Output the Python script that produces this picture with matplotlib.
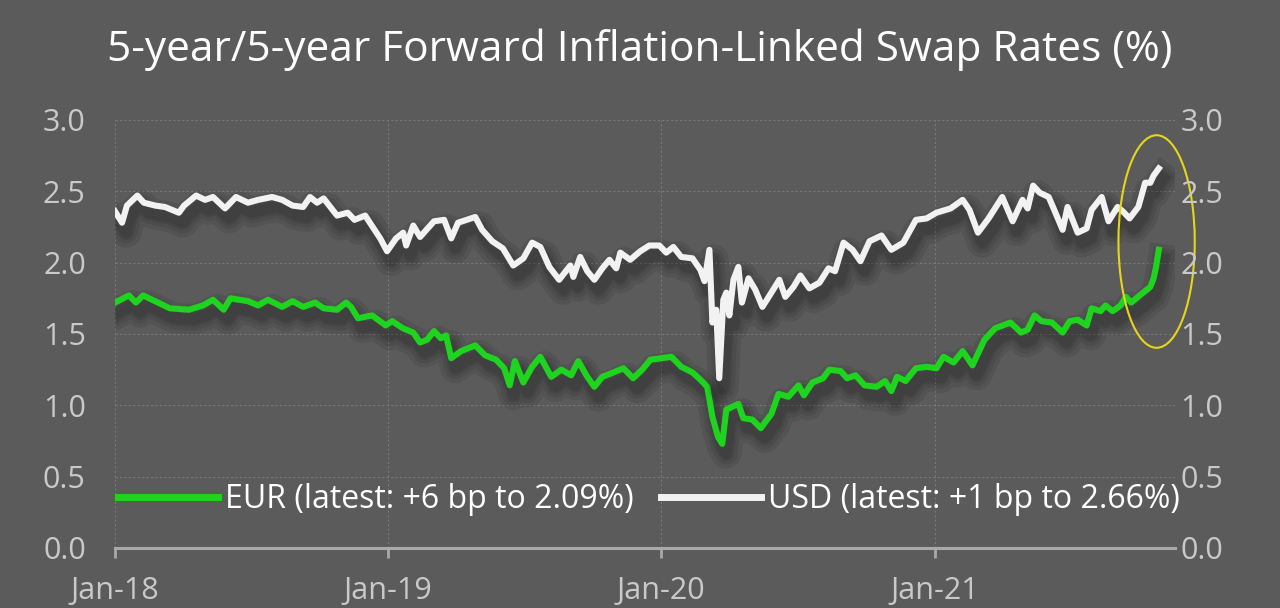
import numpy as np
import pandas as pd
import matplotlib
matplotlib.use("Agg")
import matplotlib.pyplot as plt
import matplotlib.dates as mdates
import matplotlib.patheffects as pe
from matplotlib.patches import Ellipse

# sample times in years after 1 Jan 2018, and values (%)
usd_t = [0.000, 0.026, 0.044, 0.082, 0.106, 0.147, 0.183, 0.234, 0.253, 0.297,
         0.330, 0.359, 0.403, 0.443, 0.487, 0.524, 0.575, 0.612, 0.650, 0.689,
         0.714, 0.740, 0.764, 0.813, 0.852, 0.877, 0.916, 0.940, 0.971, 0.996,
         1.029, 1.055, 1.066, 1.092, 1.117, 1.168, 1.205, 1.231, 1.256, 1.319,
         1.344, 1.381, 1.420, 1.458, 1.495, 1.527, 1.557, 1.590, 1.626, 1.667,
         1.678, 1.703, 1.729, 1.755, 1.784, 1.810, 1.835, 1.850, 1.886, 1.923,
         1.956, 1.993, 2.018, 2.044, 2.073, 2.114, 2.143, 2.158, 2.176, 2.187,
         2.201, 2.212, 2.227, 2.238, 2.249, 2.264, 2.282, 2.295, 2.319, 2.344,
         2.370, 2.403, 2.432, 2.454, 2.484, 2.509, 2.542, 2.579, 2.612, 2.636,
         2.667, 2.700, 2.729, 2.762, 2.806, 2.842, 2.886, 2.932, 2.971, 3.007,
         3.059, 3.103, 3.128, 3.159, 3.198, 3.248, 3.286, 3.322, 3.341, 3.361,
         3.385, 3.418, 3.436, 3.469, 3.487, 3.524, 3.557, 3.575, 3.612, 3.637,
         3.670, 3.689, 3.714, 3.746, 3.771, 3.790, 3.802, 3.821]
usd_v = [2.36, 2.28, 2.40, 2.47, 2.42, 2.40, 2.39, 2.35, 2.40, 2.47,
         2.44, 2.46, 2.38, 2.46, 2.42, 2.44, 2.46, 2.44, 2.40, 2.39,
         2.46, 2.42, 2.45, 2.33, 2.35, 2.30, 2.33, 2.26, 2.17, 2.08,
         2.17, 2.21, 2.12, 2.26, 2.18, 2.29, 2.30, 2.17, 2.28, 2.32,
         2.23, 2.15, 2.10, 1.98, 2.03, 2.14, 2.11, 1.97, 1.88, 1.98,
         1.90, 2.04, 1.94, 1.88, 1.96, 2.02, 1.96, 2.07, 2.02, 2.08,
         2.12, 2.12, 2.07, 2.11, 2.04, 2.03, 1.95, 1.87, 2.09, 1.58,
         1.67, 1.19, 1.74, 1.79, 1.63, 1.88, 1.97, 1.72, 1.89, 1.81,
         1.69, 1.79, 1.88, 1.76, 1.83, 1.91, 1.82, 1.86, 1.96, 1.94,
         2.14, 2.09, 2.01, 2.15, 2.19, 2.09, 2.14, 2.30, 2.31, 2.35,
         2.38, 2.44, 2.37, 2.21, 2.31, 2.46, 2.29, 2.44, 2.38, 2.54,
         2.49, 2.46, 2.38, 2.23, 2.39, 2.21, 2.24, 2.37, 2.46, 2.29,
         2.39, 2.36, 2.31, 2.39, 2.56, 2.56, 2.61, 2.66]

eur_t = [0.000, 0.051, 0.077, 0.103, 0.147, 0.201, 0.271, 0.322, 0.359, 0.398,
         0.423, 0.487, 0.524, 0.560, 0.612, 0.650, 0.689, 0.733, 0.764, 0.813,
         0.846, 0.864, 0.890, 0.941, 0.991, 1.015, 1.054, 1.092, 1.117, 1.143,
         1.168, 1.193, 1.212, 1.231, 1.267, 1.319, 1.355, 1.395, 1.425, 1.445,
         1.464, 1.495, 1.527, 1.557, 1.597, 1.634, 1.670, 1.696, 1.729, 1.755,
         1.784, 1.824, 1.861, 1.897, 1.930, 1.960, 2.000, 2.037, 2.073, 2.114,
         2.143, 2.168, 2.187, 2.207, 2.223, 2.238, 2.282, 2.300, 2.333, 2.364,
         2.403, 2.429, 2.465, 2.502, 2.522, 2.553, 2.592, 2.615, 2.656, 2.680,
         2.711, 2.744, 2.788, 2.819, 2.842, 2.863, 2.894, 2.932, 2.971, 3.007,
         3.033, 3.070, 3.103, 3.139, 3.183, 3.222, 3.278, 3.317, 3.341, 3.366,
         3.392, 3.430, 3.469, 3.495, 3.524, 3.557, 3.575, 3.608, 3.626, 3.652,
         3.681, 3.701, 3.720, 3.751, 3.790, 3.802, 3.811, 3.821]
eur_v = [1.72, 1.77, 1.72, 1.77, 1.73, 1.68, 1.67, 1.70, 1.74, 1.67,
         1.75, 1.73, 1.70, 1.74, 1.69, 1.73, 1.69, 1.72, 1.68, 1.67,
         1.72, 1.69, 1.61, 1.63, 1.56, 1.59, 1.54, 1.51, 1.44, 1.46,
         1.52, 1.47, 1.49, 1.33, 1.38, 1.42, 1.35, 1.32, 1.26, 1.14,
         1.31, 1.16, 1.27, 1.34, 1.20, 1.25, 1.21, 1.31, 1.20, 1.13,
         1.20, 1.23, 1.26, 1.19, 1.25, 1.32, 1.33, 1.34, 1.27, 1.23,
         1.18, 1.13, 0.92, 0.78, 0.73, 0.97, 1.01, 0.91, 0.90, 0.84,
         0.94, 1.08, 1.06, 1.14, 1.07, 1.16, 1.19, 1.25, 1.24, 1.19,
         1.21, 1.14, 1.13, 1.17, 1.10, 1.20, 1.17, 1.26, 1.27, 1.26,
         1.34, 1.30, 1.38, 1.28, 1.46, 1.54, 1.58, 1.51, 1.53, 1.63,
         1.59, 1.58, 1.51, 1.59, 1.60, 1.56, 1.68, 1.66, 1.70, 1.66,
         1.70, 1.76, 1.72, 1.77, 1.83, 1.89, 1.97, 2.09]

labels = ["EUR (latest: +6 bp to 2.09%)", "USD (latest: +1 bp to 2.66%)"]
title = "5-year/5-year Forward Inflation-Linked Swap Rates (%)"
y_ticks = [0.0, 0.5, 1.0, 1.5, 2.0, 2.5, 3.0]
x_ticks = ["2018-01-01", "2019-01-01", "2020-01-01", "2021-01-01"]

START = pd.Timestamp("2018-01-01")


def to_dates(ts):
    return START + pd.to_timedelta(np.asarray(ts) * 365.25, unit="D")


bg = "#5b5b5b"
green = "#1fd41f"
white = "#f2f2f2"
tick_col = "#c9c9c9"

plt.rcParams["font.family"] = ["Open Sans", "DejaVu Sans"]

fig = plt.figure(figsize=(12.8, 6.08), dpi=100, facecolor=bg)
ax = fig.add_axes([0.0898, 0.0987, 0.828, 0.704], facecolor=bg)

shadow = [pe.SimpleLineShadow(offset=(3, -7), shadow_color="black", alpha=0.08, linewidth=w)
          for w in (22, 16, 11, 8)] + [pe.Normal()]

ax.plot(to_dates(eur_t), eur_v, color=green, lw=4.4, label=labels[0],
        solid_joinstyle="round", path_effects=shadow, zorder=3)
ax.plot(to_dates(usd_t), usd_v, color=white, lw=4.4, label=labels[1],
        solid_joinstyle="round", path_effects=shadow, zorder=4)

ax.set_xlim(START, pd.Timestamp("2021-11-18"))
ax.set_ylim(0, 3.0)

ax.set_yticks(y_ticks)
ax.set_yticklabels([f"{v:.1f}" for v in y_ticks])
ax.set_xticks(pd.to_datetime(x_ticks))
ax.xaxis.set_major_formatter(mdates.DateFormatter("%b-%y"))

ax.grid(True, color="#787878", linestyle=(0, (2, 2)), linewidth=0.8)
ax.set_axisbelow(True)

for s in ("top", "right", "left"):
    ax.spines[s].set_visible(False)
ax.spines["bottom"].set_color("#a9a9a9")
ax.spines["bottom"].set_linewidth(2.2)

ax.tick_params(axis="x", colors="#a9a9a9", length=7, width=2, pad=13,
               labelsize=22, labelcolor=tick_col)
ax.tick_params(axis="y", length=0, pad=21, labelsize=22, labelcolor=tick_col)

ax2 = ax.twinx()
ax2.set_ylim(ax.get_ylim())
ax2.set_yticks(y_ticks)
ax2.set_yticklabels([f"{v:.1f}" for v in y_ticks])
ax2.tick_params(axis="y", length=0, pad=4, labelsize=22, labelcolor=tick_col)
for s in ax2.spines.values():
    s.set_visible(False)

# highlight ellipse around latest readings
cx = to_dates([3.813])[0]
ell = Ellipse((mdates.date2num(cx), 2.148), width=102, height=1.49,
              fill=False, edgecolor="#e6d619", lw=1.5, zorder=5, clip_on=False)
ax.add_patch(ell)

leg = ax.legend(loc="lower left", bbox_to_anchor=(-0.0092, 0.045), ncol=2, frameon=False,
                fontsize=23, handlelength=3.13, handletextpad=0.22, columnspacing=0.85,
                borderaxespad=0, labelcolor="white")
for h in leg.get_lines():
    h.set_linewidth(5)
    h.set_path_effects([])

fig.text(0.5, 0.918, title, ha="center", va="center", color="white", fontsize=30.5)

fig.savefig("out.png", dpi=100, facecolor=bg)
